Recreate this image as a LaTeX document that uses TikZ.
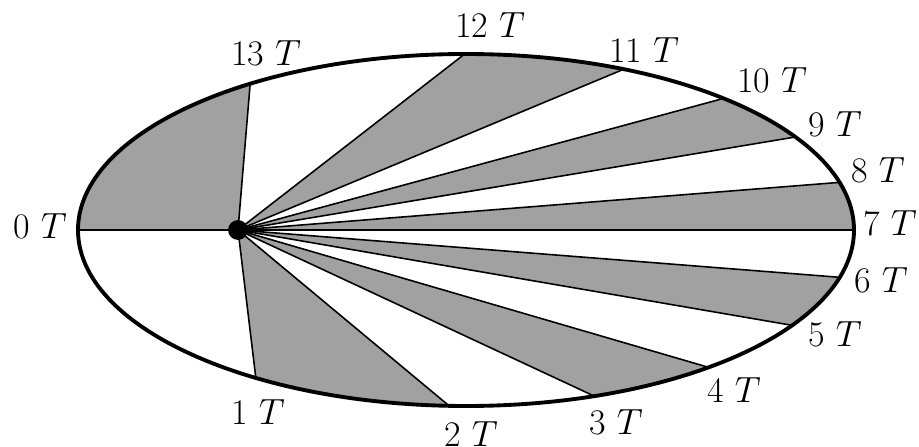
\documentclass[tikz,border=0pt]{standalone}
\begin{document}
\begin{tikzpicture}[
        x=0.02cm,
        y=0.02cm,
        font=\fontsize{20.5}{24}\selectfont,
        % style of the orbit
        orbit/.style={
            line width=2.2pt
        },
        % rays from the focus
        ray/.style={
            line width=0.9pt
        },
        % grey sectors
        sector/.style={
            fill=black!37
        },
        % time labels
        timelabel/.style={
            inner sep=0pt,
            anchor=center
        },
        % the sun
        sundot/.style={
            circle,
            fill=black,
            minimum size=11.3pt,
            inner sep=0pt
        }
    ]
    \useasboundingbox (0,0) rectangle (919,446);

    % --- 1. centre, focus and points on the orbit ---
    \coordinate (centre) at (466,216);
    \coordinate (focus) at (238,216);

    \coordinate (p0) at ([shift={(180:388 and 176)}]centre);
    \coordinate (p1) at ([shift={(237.2:388 and 176)}]centre);
    \coordinate (p2) at ([shift={(267.5:388 and 176)}]centre);
    \coordinate (p3) at ([shift={(289.3:388 and 176)}]centre);
    \coordinate (p4) at ([shift={(308.7:388 and 176)}]centre);
    \coordinate (p5) at ([shift={(327.2:388 and 176)}]centre);
    \coordinate (p6) at ([shift={(344.4:388 and 176)}]centre);
    \coordinate (p7) at ([shift={(0:388 and 176)}]centre);
    \coordinate (p8) at ([shift={(15.7:388 and 176)}]centre);
    \coordinate (p9) at ([shift={(31.9:388 and 176)}]centre);
    \coordinate (p10) at ([shift={(48.4:388 and 176)}]centre);
    \coordinate (p11) at ([shift={(66.0:388 and 176)}]centre);
    \coordinate (p12) at ([shift={(90.2:388 and 176)}]centre);
    \coordinate (p13) at ([shift={(123.8:388 and 176)}]centre);

    % --- 2. grey sectors ---
    \fill[sector] (focus) -- (p1) arc[start angle=237.2, end angle=267.5, x radius=388, y radius=176] -- cycle;
    \fill[sector] (focus) -- (p3) arc[start angle=289.3, end angle=308.7, x radius=388, y radius=176] -- cycle;
    \fill[sector] (focus) -- (p5) arc[start angle=327.2, end angle=344.4, x radius=388, y radius=176] -- cycle;
    \fill[sector] (focus) -- (p7) arc[start angle=0, end angle=15.7, x radius=388, y radius=176] -- cycle;
    \fill[sector] (focus) -- (p9) arc[start angle=31.9, end angle=48.4, x radius=388, y radius=176] -- cycle;
    \fill[sector] (focus) -- (p11) arc[start angle=66.0, end angle=90.2, x radius=388, y radius=176] -- cycle;
    \fill[sector] (focus) -- (p13) arc[start angle=123.8, end angle=180, x radius=388, y radius=176] -- cycle;

    % --- 3. rays ---
    \draw[ray] (focus) -- (p0);
    \draw[ray] (focus) -- (p1);
    \draw[ray] (focus) -- (p2);
    \draw[ray] (focus) -- (p3);
    \draw[ray] (focus) -- (p4);
    \draw[ray] (focus) -- (p5);
    \draw[ray] (focus) -- (p6);
    \draw[ray] (focus) -- (p7);
    \draw[ray] (focus) -- (p8);
    \draw[ray] (focus) -- (p9);
    \draw[ray] (focus) -- (p10);
    \draw[ray] (focus) -- (p11);
    \draw[ray] (focus) -- (p12);
    \draw[ray] (focus) -- (p13);

    % --- 4. orbit and sun ---
    \draw[orbit] (centre) ellipse [x radius=388, y radius=176];
    \node[sundot] (sun) at (focus) {};

    % --- 5. time labels ---
    \node[timelabel] (t0) at (40,219.5) {0 $T$};
    \node[timelabel] (t1) at (258,34) {1 $T$};
    \node[timelabel] (t2) at (471,12) {2 $T$};
    \node[timelabel] (t3) at (616,24) {3 $T$};
    \node[timelabel] (t4) at (734,56) {4 $T$};
    \node[timelabel] (t5) at (835,112) {5 $T$};
    \node[timelabel] (t6) at (881,166) {6 $T$};
    \node[timelabel] (t7) at (890,223) {7 $T$};
    \node[timelabel] (t8) at (878,276) {8 $T$};
    \node[timelabel] (t9) at (835,322) {9 $T$};
    \node[timelabel] (t10) at (772,365.5) {10 $T$};
    \node[timelabel] (t11) at (644,396) {11 $T$};
    \node[timelabel] (t12) at (490,421) {12 $T$};
    \node[timelabel] (t13) at (266,393) {13 $T$};

\end{tikzpicture}
\end{document}
